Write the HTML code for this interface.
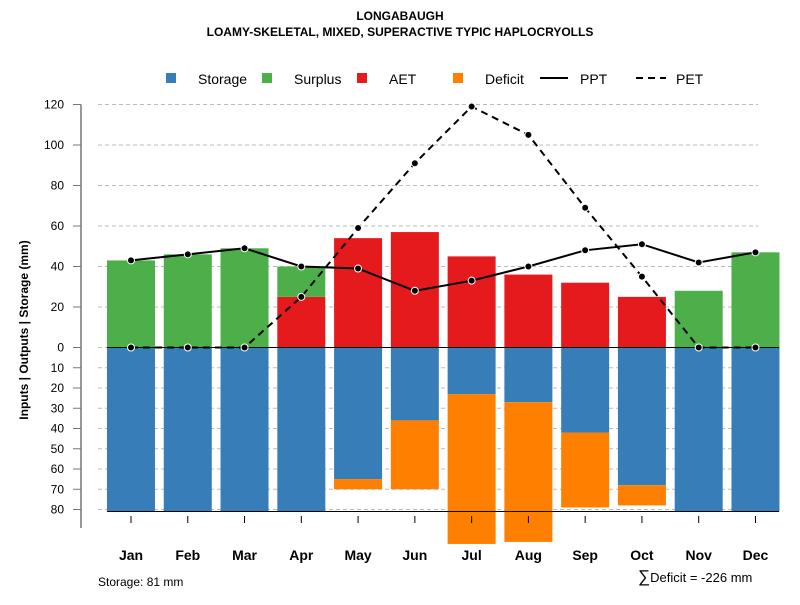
<!DOCTYPE html>
<html><head><meta charset="utf-8"><style>
body{margin:0;background:#fff;font-family:"Liberation Sans",sans-serif}
svg text{font-family:"Liberation Sans",sans-serif}
</style></head><body>
<svg width="800" height="600" xmlns="http://www.w3.org/2000/svg">
<text x="400" y="20" text-anchor="middle" font-size="12" font-weight="bold">LONGABAUGH</text>
<text x="400" y="36" text-anchor="middle" font-size="12" font-weight="bold">LOAMY-SKELETAL, MIXED, SUPERACTIVE TYPIC HAPLOCRYOLLS</text>
<g id="legend" font-size="14">
<rect x="166" y="73" width="10" height="10" fill="#377EB8"/>
<text x="198" y="84">Storage</text>
<rect x="262" y="73" width="10" height="10" fill="#4DAF4A"/>
<text x="294" y="84">Surplus</text>
<rect x="357" y="73" width="10" height="10" fill="#E41A1C"/>
<text x="389" y="84">AET</text>
<rect x="453" y="73" width="10" height="10" fill="#FF7F00"/>
<text x="485" y="84">Deficit</text>
<line x1="540" y1="78" x2="568" y2="78" stroke="#000" stroke-width="2"/>
<text x="580" y="84">PPT</text>
<line x1="636" y1="78" x2="666" y2="78" stroke="#000" stroke-width="2" stroke-dasharray="7,5"/>
<text x="676" y="84">PET</text>
</g>
<g id="grid"></g><g id="bars"></g><g id="axes"></g><g id="lines"></g>
<text transform="translate(28,330) rotate(-90)" text-anchor="middle" font-size="12" font-weight="bold">Inputs | Outputs | Storage    (mm)</text>
<text x="98" y="586" font-size="12">Storage: 81 mm</text>
<text x="638" y="582" font-size="13"><tspan font-size="17">∑</tspan>Deficit = -226 mm</text>
</svg>
<script>
const months=["Jan","Feb","Mar","Apr","May","Jun","Jul","Aug","Sep","Oct","Nov","Dec"];
const aet=[0,0,0,25,54,57,45,36,32,25,0,0];
const surplus=[43,46,49,15,0,0,0,0,0,0,28,47];
const storage=[81,81,81,81,65,36,23,27,42,68,81,81];
const deficit=[0,0,0,0,5,34,74,69,37,10,0,0];
const ppt=[43,46,49,40,39,28,33,40,48,51,42,47];
const pet=[0,0,0,25,59,91,119,105,69,35,0,0];
const posTicks=[0,20,40,60,80,100,120];
const negTicks=[10,20,30,40,50,60,70,80];
const NS="http://www.w3.org/2000/svg";
const y=v=>347.5-v*2.025;
const x=i=>131+i*56.77;
const bw=48;
function mk(tag,attrs,parent){const e=document.createElementNS(NS,tag);for(const k in attrs)e.setAttribute(k,attrs[k]);document.getElementById(parent).appendChild(e);return e;}
posTicks.concat(negTicks.map(v=>-v)).forEach(v=>{
 let g=mk("line",{x1:98,x2:758,y1:y(v),y2:y(v),stroke:"#bbb","stroke-dasharray":"4,3"},"grid");
 
 
 let t=mk("line",{x1:73,x2:81,y1:y(v),y2:y(v),stroke:"#777"},"axes");
 
 
 let l=mk("text",{x:64,y:y(v)+4,"text-anchor":"end","font-size":"12"},"axes");l.textContent=Math.abs(v);
 
 
});
let ax=mk("line",{x1:81,x2:81,y1:y(120),y2:528,stroke:"#777","stroke-width":1.5},"axes");


months.forEach((m,i)=>{
 const L=x(i)-bw/2;
 const r=(v0,v1,c,n)=>{if(v1===v0)return;let e=mk("rect",{x:L,width:bw,y:Math.min(y(v0),y(v1)),height:Math.abs(y(v1)-y(v0)),fill:c},"bars");
  
  };
 r(0,aet[i],"#E41A1C","bar-aet-"+m.toLowerCase());
 r(aet[i],aet[i]+surplus[i],"#4DAF4A","bar-surplus-"+m.toLowerCase());
 r(0,-storage[i],"#377EB8","bar-storage-"+m.toLowerCase());
 r(-storage[i],-storage[i]-deficit[i],"#FF7F00","bar-deficit-"+m.toLowerCase());
 let t=mk("line",{x1:x(i),x2:x(i),y1:516,y2:523,stroke:"#000"},"axes");
 
 
 let l=mk("text",{x:x(i),y:560,"text-anchor":"middle","font-size":"14","font-weight":"bold"},"axes");l.textContent=m;
 
 
});
let z=mk("line",{x1:107,x2:779,y1:y(0),y2:y(0),stroke:"#000"},"bars");


let sb=mk("line",{x1:107,x2:779,y1:y(-81),y2:y(-81),stroke:"#000"},"bars");


[[ppt,"",'ppt'],[pet,"7,5",'pet']].forEach(([d,dash,n])=>{
 let p=mk("polyline",{points:d.map((v,i)=>x(i)+","+y(v)).join(" "),fill:"none",stroke:"#000","stroke-width":2,"stroke-dasharray":dash},"lines");
 
 
 d.forEach((v,i)=>{let c=mk("circle",{cx:x(i),cy:y(v),r:3.5,fill:"#000",stroke:"#fff","stroke-width":1},"lines");
  
  });
});
</script>
</body></html>
